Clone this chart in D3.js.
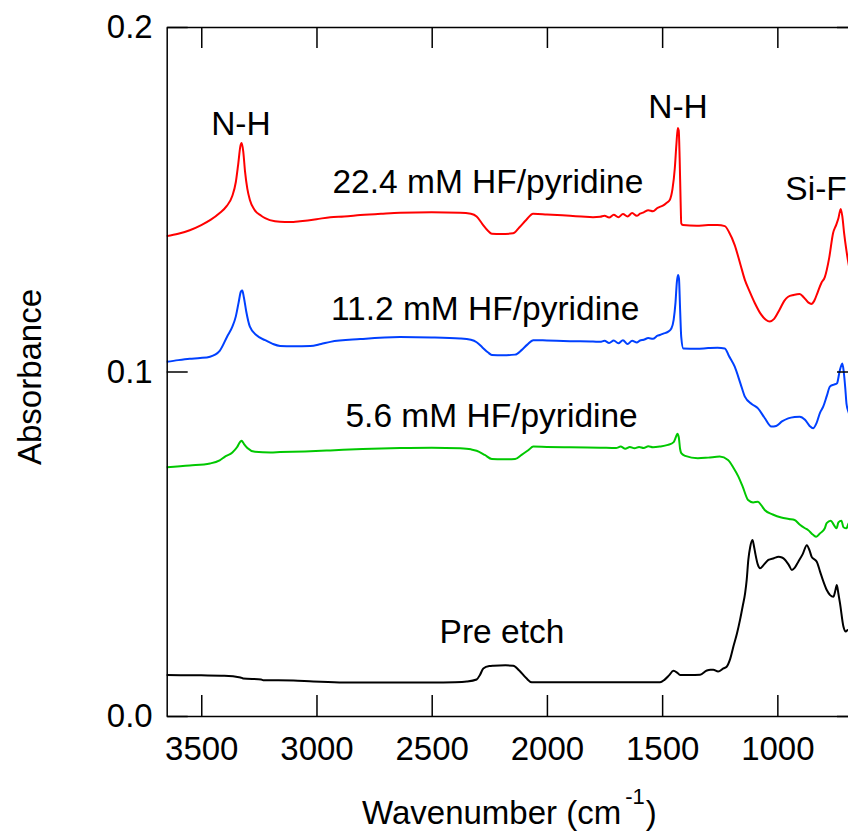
<!DOCTYPE html>
<html>
<head>
<meta charset="utf-8">
<script src="https://cdn.jsdelivr.net/npm/d3@7"></script>
<style>
  html, body { margin: 0; padding: 0; background: #fff; }
  svg { display: block; font-family: "Liberation Sans", Arial, sans-serif; }
</style>
</head>
<body>
<svg id="chart" width="848" height="831"></svg>
<script>
// ---------- data (wavenumber in cm^-1, absorbance) ----------
const wnRed = [3650,3600,3550,3500,3460,3420,3390,3365,3350,3340,3330,3325,3318,3310,3300,3289,3270,3240,3223,3180,3137,3100,3071,3000,2940,2880,2810,2720,2637,2500,2377,2330,2305,2280,2255,2239,2200,2147,2120,2090,2060,2000,1900,1850,1800,1769,1750,1730,1710,1690,1670,1650,1630,1610,1596,1580,1560,1540,1520,1510,1495,1480,1467,1455,1445,1438,1432,1428,1424,1420,1417,1410,1350,1300,1260,1228,1210,1185,1160,1141,1120,1098,1070,1050,1033,1015,990,970,953,930,903,885,865,853,840,825,809,794,775,758,745,735,725,718,710,700,694,680,660,650];
const absRed = [0.1393,0.1400,0.1410,0.1425,0.1440,0.1460,0.1480,0.1510,0.1550,0.1600,0.1655,0.1663,0.1640,0.1580,0.1530,0.1498,0.1470,0.1452,0.1445,0.1436,0.1434,0.1434,0.1436,0.1442,0.1448,0.1450,0.1454,0.1458,0.1461,0.1462,0.1461,0.1458,0.1450,0.1428,0.1408,0.1400,0.1399,0.1401,0.1418,0.1440,0.1458,0.1456,0.1452,0.1450,0.1448,0.1449,0.1452,0.1447,0.1455,0.1448,0.1457,0.1450,0.1460,0.1452,0.1458,0.1462,0.1468,0.1465,0.1475,0.1478,0.1482,0.1490,0.1498,0.1530,0.1590,0.1660,0.1707,0.1700,0.1620,0.1500,0.1430,0.1425,0.1423,0.1425,0.1425,0.1422,0.1405,0.1367,0.1310,0.1266,0.1232,0.1199,0.1165,0.1150,0.1145,0.1152,0.1180,0.1205,0.1217,0.1222,0.1225,0.1215,0.1200,0.1196,0.1205,0.1230,0.1257,0.1274,0.1330,0.1402,0.1425,0.1445,0.1472,0.1450,0.1400,0.1350,0.1324,0.1280,0.1250,0.1240];

const wnBlue = [3650,3600,3550,3505,3462,3420,3388,3365,3350,3338,3328,3322,3315,3305,3289,3260,3223,3190,3158,3100,3027,2980,2940,2810,2637,2500,2377,2330,2305,2280,2255,2239,2190,2138,2110,2085,2059,2000,1900,1800,1769,1750,1730,1710,1690,1670,1650,1630,1610,1596,1580,1560,1540,1520,1510,1495,1475,1460,1450,1442,1436,1431,1427,1422,1417,1408,1350,1300,1260,1228,1210,1185,1160,1141,1110,1084,1055,1026,1005,980,953,925,903,880,860,845,830,815,801,785,772,755,741,730,718,712,705,700,690,670,650];
const absBlue = [0.1028,0.1033,0.1037,0.1039,0.1043,0.1060,0.1101,0.1130,0.1160,0.1200,0.1232,0.1235,0.1215,0.1175,0.1130,0.1105,0.1091,0.1080,0.1074,0.1073,0.1074,0.1080,0.1086,0.1094,0.1100,0.1099,0.1096,0.1092,0.1085,0.1070,0.1055,0.1048,0.1047,0.1049,0.1062,0.1078,0.1091,0.1090,0.1088,0.1087,0.1086,0.1089,0.1083,0.1090,0.1082,0.1091,0.1080,0.1089,0.1084,0.1090,0.1092,0.1097,0.1095,0.1104,0.1106,0.1110,0.1115,0.1125,0.1150,0.1200,0.1260,0.1280,0.1270,0.1180,0.1100,0.1067,0.1066,0.1068,0.1069,0.1067,0.1045,0.1014,0.0965,0.0927,0.0905,0.0893,0.0865,0.0840,0.0842,0.0855,0.0864,0.0868,0.0869,0.0860,0.0842,0.0835,0.0850,0.0880,0.0898,0.0930,0.0956,0.0962,0.0966,0.1000,0.1023,0.1000,0.0950,0.0907,0.0880,0.0860,0.0850];

const wnGreen = [3650,3550,3462,3420,3397,3365,3345,3330,3325,3315,3300,3267,3200,3158,3050,2940,2800,2637,2500,2377,2330,2305,2270,2239,2190,2138,2110,2080,2059,2000,1900,1769,1700,1680,1660,1640,1620,1600,1580,1560,1540,1510,1475,1450,1440,1434,1428,1422,1417,1400,1345,1300,1250,1214,1190,1169,1150,1127,1105,1084,1070,1055,1020,983,950,925,902,880,867,845,831,815,794,786,768,755,743,735,722,713,700,690,670,650];
const absGreen = [0.0722,0.0727,0.0733,0.0742,0.0753,0.0765,0.0780,0.0797,0.0799,0.0790,0.0778,0.0767,0.0765,0.0766,0.0768,0.0771,0.0775,0.0778,0.0779,0.0777,0.0774,0.0770,0.0758,0.0746,0.0745,0.0746,0.0758,0.0772,0.0782,0.0781,0.0780,0.0779,0.0778,0.0782,0.0776,0.0781,0.0777,0.0781,0.0778,0.0783,0.0780,0.0782,0.0787,0.0795,0.0810,0.0819,0.0810,0.0775,0.0763,0.0755,0.0748,0.0750,0.0753,0.0743,0.0720,0.0695,0.0665,0.0627,0.0620,0.0622,0.0612,0.0598,0.0585,0.0576,0.0572,0.0569,0.0555,0.0545,0.0540,0.0526,0.0520,0.0530,0.0545,0.0560,0.0567,0.0555,0.0545,0.0562,0.0567,0.0548,0.0545,0.0560,0.0565,0.0560];

const wnBlack = [3650,3500,3400,3330,3318,3240,3231,3100,3014,2950,2884,2700,2500,2400,2348,2305,2290,2276,2250,2232,2180,2146,2120,2090,2066,1900,1700,1509,1490,1470,1451,1435,1422,1380,1335,1306,1290,1278,1257,1234,1220,1205,1191,1175,1162,1150,1140,1133,1126,1118,1108,1102,1096,1085,1075,1060,1039,1015,995,980,966,950,937,925,909,890,872,860,851,840,829,815,800,785,771,757,748,742,735,728,713,703,694,680,650];
const absBlack = [0.0119,0.0118,0.0117,0.0112,0.0109,0.0106,0.0104,0.0103,0.0100,0.0099,0.0097,0.0097,0.0097,0.0098,0.0100,0.0106,0.0120,0.0138,0.0145,0.0146,0.0147,0.0146,0.0132,0.0110,0.0098,0.0098,0.0098,0.0098,0.0105,0.0118,0.0131,0.0126,0.0119,0.0119,0.0120,0.0132,0.0134,0.0134,0.0129,0.0138,0.0143,0.0165,0.0201,0.0240,0.0279,0.0320,0.0356,0.0395,0.0453,0.0490,0.0511,0.0495,0.0473,0.0440,0.0429,0.0438,0.0453,0.0458,0.0462,0.0460,0.0453,0.0438,0.0424,0.0430,0.0448,0.0470,0.0496,0.0480,0.0462,0.0455,0.0448,0.0420,0.0390,0.0365,0.0351,0.0346,0.0365,0.0380,0.0355,0.0327,0.0259,0.0245,0.0250,0.0240,0.0230];

const seriesNames = ["22.4 mM HF/pyridine","11.2 mM HF/pyridine","5.6 mM HF/pyridine","Pre etch"];
const seriesColors = ["#ff0000","#0040ff","#00c800","#000000"];

const xTicks = [3500,3000,2500,2000,1500,1000];
const yTicks = [0.0,0.1,0.2];
const yTickLabels = ["0.0","0.1","0.2"];

// annotation anchor (centre x in wavenumber, baseline in absorbance)
const annotations = [
  {text:"N-H",  wn:3328, a:0.1687},
  {text:"N-H",  wn:1431, a:0.1736},
  {text:"Si-F", wn:832,  a:0.1498},
  {text:seriesNames[0], wn:2256, a:0.1518},
  {text:seriesNames[1], wn:2268, a:0.1149},
  {text:seriesNames[2], wn:2240, a:0.0839},
  {text:seriesNames[3], wn:2195, a:0.0212}
];

// ---------- chart ----------
const L = 166.7, R = 858, T = 27, B = 716;
const fs = 33;
const fsNote = 33.5;
const svg = d3.select("#chart");

const x = d3.scaleLinear().domain([3650, 650]).range([L, R]);
const y = d3.scaleLinear().domain([0, 0.2]).range([B, T]);

const series = [
  {wn: wnRed, ab: absRed},
  {wn: wnBlue, ab: absBlue},
  {wn: wnGreen, ab: absGreen},
  {wn: wnBlack, ab: absBlack}
];

const line = d3.line().x(d => x(d[0])).y(d => y(d[1])).curve(d3.curveMonotoneX);

series.forEach((s, i) => {
  const pts = s.wn.map((w, k) => [w, s.ab[k]]);
  svg.append("path")
    .attr("d", line(pts))
    .attr("fill", "none")
    .attr("stroke", seriesColors[i])
    .attr("stroke-width", 2)
    .attr("stroke-linejoin", "round");
});

// axes
const axStyle = g => {
  g.select(".domain").attr("stroke", "#000").attr("stroke-width", 1.5);
  g.selectAll(".tick line").attr("stroke", "#000").attr("stroke-width", 1.5);
  g.selectAll(".tick text").attr("font-size", fs).attr("fill", "#000")
    .attr("font-family", '"Liberation Sans", Arial, sans-serif');
};

svg.append("g").attr("transform", `translate(0,${B})`)
  .call(d3.axisBottom(x).tickValues(xTicks).tickSizeInner(-21).tickSizeOuter(0).tickPadding(21).tickFormat(d3.format("d")))
  .call(axStyle);
svg.append("g").attr("transform", `translate(0,${T})`)
  .call(d3.axisTop(x).tickValues(xTicks).tickSizeInner(-21).tickSizeOuter(0).tickFormat(""))
  .call(axStyle);
svg.append("g").attr("transform", `translate(${L},0)`)
  .call(d3.axisLeft(y).tickValues(yTicks).tickSizeInner(-21).tickSizeOuter(0).tickPadding(14)
    .tickFormat((d, i) => yTickLabels[i]))
  .call(axStyle);
svg.append("g").attr("transform", `translate(${R},0)`)
  .call(d3.axisRight(y).tickValues(yTicks).tickSizeInner(-21).tickSizeOuter(0).tickFormat(""))
  .call(axStyle);

// axis titles
svg.append("text")
  .attr("transform", `translate(41,377) rotate(-90)`)
  .attr("text-anchor", "middle")
  .attr("font-size", fs)
  .text("Absorbance");

const xt = svg.append("text")
  .attr("x", 362).attr("y", 824)
  .attr("font-size", fs);
xt.append("tspan").text("Wavenumber (cm");
xt.append("tspan").attr("font-size", 22).attr("dx", 4).attr("dy", -20).text("-1");
xt.append("tspan").attr("dy", 20).attr("dx", 1).text(")");

// annotations
annotations.forEach(a => {
  svg.append("text")
    .attr("x", x(a.wn)).attr("y", y(a.a))
    .attr("text-anchor", "middle")
    .attr("font-size", fsNote)
    .text(a.text);
});
</script>
</body>
</html>
